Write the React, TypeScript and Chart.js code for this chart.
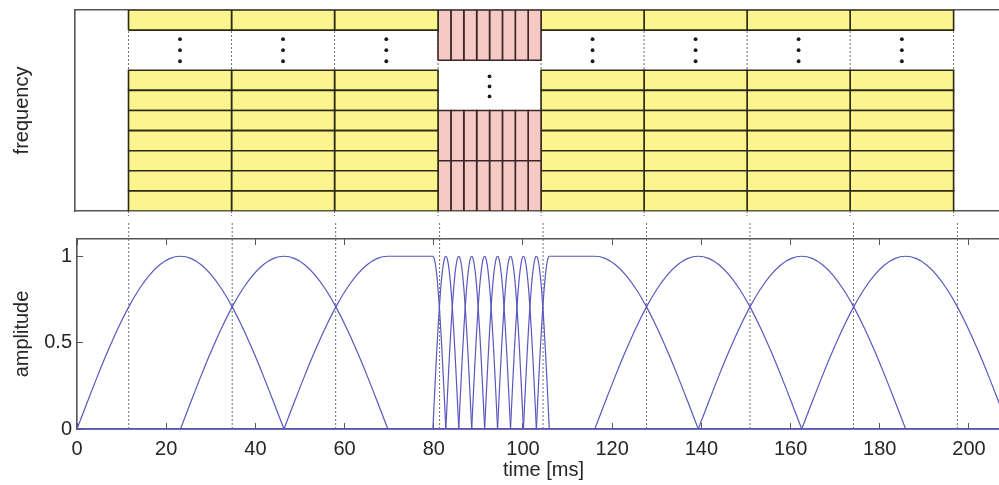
import React, { useEffect, useRef } from 'react';
import { Chart, registerables } from 'chart.js';

Chart.register(...registerables);

// ---------- data ----------
const xTickValues = [0, 20, 40, 60, 80, 100, 120, 140, 160, 180, 200];
const yTickValues = [0, 0.5, 1];
const xLabel = 'time [ms]';
const topYLabel = 'frequency';
const bottomYLabel = 'amplitude';

// frame boundaries (dotted lines) in ms
const frameEdges = [11.6, 34.8, 58.0, 81.3, 104.5, 127.7, 150.9, 174.1, 197.4];
const frameIsShort = [false, false, false, true, false, false, false, false];
// sub-block edges inside the short (eight-short) frame
const shortFrameEdges = [81.3, 84.2, 87.1, 90.0, 92.9, 95.8, 98.7, 101.6, 104.5];
// frequency bands (long frames)
const longBandLow = [0, 1, 2, 3, 4, 5, 6, 9];
const longBandHigh = [1, 2, 3, 4, 5, 6, 7, 10];
// frequency bands (short frame)
const shortBandLow = [0, 2.5, 7.5];
const shortBandHigh = [2.5, 5, 10];
// "..." dots in the gaps
const longGapDotsY = [7.45, 8.0, 8.55];
const shortGapDotsY = [5.7, 6.2, 6.7];

// windows: rise start, rise end, fall start, fall end (ms)
const windowRiseStart = [0, 23.2, 46.4, 79.8, 82.7, 85.6, 88.5, 91.4, 94.3, 97.2, 100.1, 103.0, 116.1, 139.3, 162.5];
const windowRiseEnd = [23.2, 46.4, 69.7, 82.7, 85.6, 88.5, 91.4, 94.3, 97.2, 100.1, 103.0, 105.9, 139.3, 162.5, 185.8];
const windowFallStart = [23.2, 46.4, 79.8, 82.7, 85.6, 88.5, 91.4, 94.3, 97.2, 100.1, 103.0, 116.1, 139.3, 162.5, 185.8];
const windowFallEnd = [46.4, 69.7, 82.7, 85.6, 88.5, 91.4, 94.3, 97.2, 100.1, 103.0, 105.9, 139.3, 162.5, 185.8, 209.0];
// rising half of the window, amplitude at 10 equal steps of its span
const risingHalf = [0, 0.156, 0.309, 0.454, 0.588, 0.707, 0.809, 0.891, 0.951, 0.988, 1];

// ---------- style ----------
const X_MAX = 209.2;
const TOP_X_MIN = -0.45;
const FONT = "'Liberation Sans', Arial, Helvetica, sans-serif";
const TEXT = '#262626';
const AXIS = '#555555';
const BLUE = 'rgb(88, 88, 190)';
const YELLOW = '#fcf58f';
const YELLOW_EDGE = '#2a2a12';
const PINK = '#f5c9c4';
const PINK_EDGE = '#3a2626';
const DOT = '#6e6e6e';

function rect(x0: number, x1: number, y0: number, y1: number, fillC: string, edge: string) {
  return {
    data: [
      { x: x0, y: y0 },
      { x: x1, y: y0 },
      { x: x1, y: y1 },
      { x: x0, y: y1 },
      { x: x0, y: y0 },
    ],
    fill: 'shape',
    backgroundColor: fillC,
    borderColor: edge,
    borderWidth: 1.6,
    pointRadius: 0,
    tension: 0,
    order: 1,
  };
}

function buildTopDatasets() {
  const ds: any[] = [];
  frameEdges.forEach((e) => {
    ds.push({
      data: [{ x: e, y: -0.3 }, { x: e, y: 10 }],
      borderColor: DOT,
      borderWidth: 1,
      borderDash: [2, 2],
      pointRadius: 0,
      clip: false,
      order: 3,
    });
  });
  const dots: { x: number; y: number }[] = [];
  for (let f = 0; f < frameIsShort.length; f++) {
    const x0 = frameEdges[f];
    const x1 = frameEdges[f + 1];
    const cx = (x0 + x1) / 2;
    if (frameIsShort[f]) {
      for (let j = 0; j < shortFrameEdges.length - 1; j++) {
        for (let b = 0; b < shortBandLow.length; b++) {
          ds.push(rect(shortFrameEdges[j], shortFrameEdges[j + 1], shortBandLow[b], shortBandHigh[b], PINK, PINK_EDGE));
        }
      }
      shortGapDotsY.forEach((y) => dots.push({ x: cx, y }));
    } else {
      for (let b = 0; b < longBandLow.length; b++) {
        ds.push(rect(x0, x1, longBandLow[b], longBandHigh[b], YELLOW, YELLOW_EDGE));
      }
      longGapDotsY.forEach((y) => dots.push({ x: cx, y }));
    }
  }
  ds.push({
    data: dots,
    showLine: false,
    pointRadius: 1.9,
    pointBackgroundColor: '#1a1a1a',
    pointBorderWidth: 0,
    order: 0,
  });
  return ds;
}

function windowPoints(i: number) {
  const rs = windowRiseStart[i];
  const re = windowRiseEnd[i];
  const fs = windowFallStart[i];
  const fe = windowFallEnd[i];
  const n = risingHalf.length - 1;
  const pts: { x: number; y: number }[] = [];
  for (let k = 0; k <= n; k++) pts.push({ x: rs + ((re - rs) * k) / n, y: risingHalf[k] });
  for (let k = 0; k <= n; k++) {
    if (k === 0 && fs === re) continue;
    pts.push({ x: fs + ((fe - fs) * k) / n, y: risingHalf[n - k] });
  }
  return pts;
}

function buildBottomDatasets() {
  const ds: any[] = [];
  frameEdges.forEach((e) => {
    ds.push({
      data: [{ x: e, y: 0 }, { x: e, y: 1.2 }],
      borderColor: DOT,
      borderWidth: 1,
      borderDash: [2, 2],
      pointRadius: 0,
      clip: false,
      order: 3,
    });
  });
  for (let i = 0; i < windowRiseStart.length; i++) {
    ds.push({
      data: windowPoints(i),
      borderColor: BLUE,
      borderWidth: 1.2,
      pointRadius: 0,
      cubicInterpolationMode: 'monotone',
      fill: false,
      order: 1,
    });
  }
  ds.push({
    data: [{ x: 0, y: 0 }, { x: X_MAX, y: 0 }],
    borderColor: BLUE,
    borderWidth: 1.6,
    pointRadius: 0,
    clip: false,
    order: 0,
  });
  return ds;
}

const tickFont = { family: FONT, size: 20 };

function TopChart() {
  const ref = useRef<HTMLCanvasElement>(null);
  useEffect(() => {
    const chart = new Chart(ref.current as HTMLCanvasElement, {
      type: 'line',
      data: { datasets: buildTopDatasets() },
      options: {
        animation: false,
        responsive: false,
        devicePixelRatio: 1,
        layout: { padding: { top: 10, left: 0, right: 0, bottom: 0 } },
        plugins: { legend: { display: false }, tooltip: { enabled: false } },
        elements: { point: { radius: 0 } },
        scales: {
          x: {
            type: 'linear',
            position: 'bottom',
            min: TOP_X_MIN,
            max: X_MAX,
            afterFit: (s: any) => { s.height = 5; },
            ticks: { display: false },
            grid: { display: false },
            border: { display: true, color: AXIS, width: 1.6 },
          },
          x2: {
            type: 'linear',
            position: 'top',
            min: TOP_X_MIN,
            max: X_MAX,
            afterFit: (s: any) => { s.height = 0; },
            ticks: { display: false },
            grid: { display: false },
            border: { display: true, color: AXIS, width: 1.6 },
          },
          y: {
            type: 'linear',
            position: 'left',
            min: 0,
            max: 10,
            afterFit: (s: any) => { s.width = 75; },
            ticks: { display: false },
            grid: { display: false },
            border: { display: true, color: AXIS, width: 1.6 },
            title: { display: true, text: topYLabel, color: TEXT, font: tickFont, padding: { top: 10, bottom: 0 } },
          },
        },
      } as any,
    });
    return () => chart.destroy();
  }, []);
  return <canvas ref={ref} width={1010} height={216} style={{ width: 1010, height: 216, display: 'block' }} />;
}

function BottomChart() {
  const ref = useRef<HTMLCanvasElement>(null);
  useEffect(() => {
    const xTicks = (s: any) => { s.ticks = xTickValues.map((v) => ({ value: v })); };
    const chart = new Chart(ref.current as HTMLCanvasElement, {
      type: 'line',
      data: { datasets: buildBottomDatasets() },
      options: {
        animation: false,
        responsive: false,
        devicePixelRatio: 1,
        layout: { padding: { top: 11, left: 0, right: 0, bottom: 0 } },
        plugins: { legend: { display: false }, tooltip: { enabled: false } },
        elements: { point: { radius: 0 } },
        scales: {
          x: {
            type: 'linear',
            position: 'bottom',
            min: 0,
            max: X_MAX,
            afterBuildTicks: xTicks,
            afterFit: (s: any) => { s.height = 56; },
            ticks: { color: TEXT, font: tickFont, padding: 14, maxRotation: 0, autoSkip: false, callback: (v: any) => String(v) },
            grid: { drawOnChartArea: false, drawTicks: true, tickLength: -6, color: AXIS },
            border: { display: true, color: AXIS, width: 1.6 },
            title: { display: true, text: xLabel, color: TEXT, font: tickFont, padding: { top: 0, bottom: 3 } },
          },
          x2: {
            type: 'linear',
            position: 'top',
            min: 0,
            max: X_MAX,
            afterBuildTicks: xTicks,
            afterFit: (s: any) => { s.height = 0; },
            ticks: { display: false },
            grid: { drawOnChartArea: false, drawTicks: true, tickLength: -6, color: AXIS },
            border: { display: true, color: AXIS, width: 1.6 },
          },
          y: {
            type: 'linear',
            position: 'left',
            min: 0,
            max: 1.1,
            afterBuildTicks: (s: any) => { s.ticks = yTickValues.map((v) => ({ value: v })); },
            afterFit: (s: any) => { s.width = 77; },
            ticks: { color: TEXT, font: tickFont, padding: 11, callback: (v: any) => String(v) },
            grid: { drawOnChartArea: false, drawTicks: true, tickLength: -6, color: AXIS },
            border: { display: true, color: AXIS, width: 1.6 },
            title: { display: true, text: bottomYLabel, color: TEXT, font: tickFont, padding: { top: 10, bottom: 0 } },
          },
        },
      } as any,
    });
    return () => chart.destroy();
  }, []);
  return <canvas ref={ref} width={1010} height={269} style={{ width: 1010, height: 269, display: 'block' }} />;
}

export default function App() {
  return (
    <div style={{ position: 'absolute', left: 0, top: 0, width: 999, height: 485, overflow: 'hidden', background: '#ffffff' }}>
      <div style={{ position: 'absolute', left: 0, top: 0, width: 1010, height: 216 }}>
        <TopChart />
      </div>
      <div style={{ position: 'absolute', left: 0, top: 216, width: 1010, height: 269 }}>
        <BottomChart />
      </div>
    </div>
  );
}
